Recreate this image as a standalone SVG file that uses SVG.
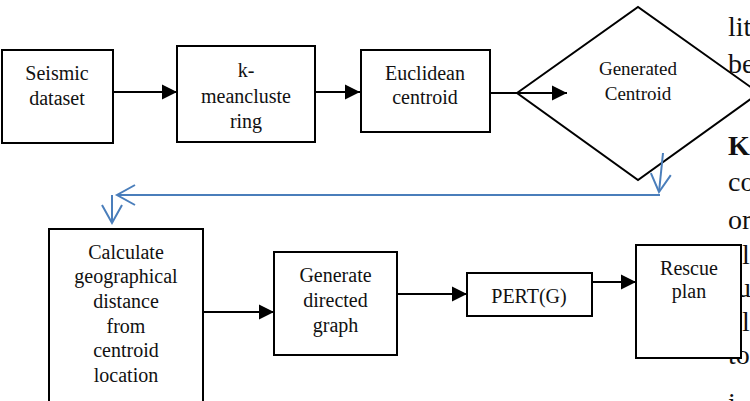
<svg xmlns="http://www.w3.org/2000/svg" width="750" height="401" viewBox="0 0 750 401">
<style>
.n{fill:#fff;stroke:#000;stroke-width:2}
.t{font-family:"Liberation Serif","Times New Roman",serif;font-size:20px;fill:#111;text-anchor:middle}
.d{font-size:19px}
.p{font-family:"Liberation Serif","Times New Roman",serif;font-size:28px;fill:#111}
.a{stroke:#000;stroke-width:2;fill:none}
.b{stroke:#4a7ebb;stroke-width:2;fill:none}
</style>
<defs>
<marker id="ah" markerUnits="userSpaceOnUse" markerWidth="16" markerHeight="16" refX="15" refY="7.5" orient="auto" overflow="visible">
<path d="M0,0 L15,7.5 L0,15 z" fill="#000"/>
</marker>
<marker id="bh" markerUnits="userSpaceOnUse" markerWidth="22" markerHeight="22" refX="18" refY="10" orient="auto" overflow="visible">
<path d="M0,0 L18,10 L0,20" fill="none" stroke="#4a7ebb" stroke-width="2"/>
</marker>
</defs>
<rect width="750" height="401" fill="#fff"/>

<g id="page-text">
<text class="p" x="728" y="36">lit</text>
<text class="p" x="728" y="73">be</text>
<text class="p" x="728" y="155" font-weight="bold">K</text>
<text class="p" x="728" y="191">co</text>
<text class="p" x="728" y="229">or</text>
<text class="p" x="742" y="264">l</text>
<text class="p" x="737" y="297">u</text>
<text class="p" x="742" y="331">l</text>
<text class="p" x="728" y="364">to</text>
<text class="p" x="728" y="412">i</text>
</g>

<g id="seismic">
<rect class="n" x="2" y="50" width="111" height="93"/>
<text class="t" x="57" y="80">Seismic</text>
<text class="t" x="57" y="105">dataset</text>
</g>
<g id="kmeans">
<rect class="n" x="177" y="46" width="138" height="96"/>
<text class="t" x="246" y="77">k-</text>
<text class="t" x="246" y="103">meancluste</text>
<text class="t" x="246" y="128">ring</text>
</g>
<g id="euclidean">
<rect class="n" x="361" y="50" width="129" height="82"/>
<text class="t" x="425" y="80">Euclidean</text>
<text class="t" x="425" y="104">centroid</text>
</g>
<g id="generated">
<polygon class="n" points="517,93 638,7 759,93 638,180"/>
<text class="t d" x="638" y="75">Generated</text>
<text class="t d" x="638" y="100">Centroid</text>
</g>
<g id="calculate">
<rect class="n" x="49" y="229" width="154" height="190"/>
<text class="t" x="126" y="259">Calculate</text>
<text class="t" x="126" y="283">geographical</text>
<text class="t" x="126" y="308">distance</text>
<text class="t" x="126" y="333">from</text>
<text class="t" x="126" y="357">centroid</text>
<text class="t" x="126" y="382">location</text>
</g>
<g id="directed">
<rect class="n" x="274" y="252" width="123" height="103"/>
<text class="t" x="335.5" y="282">Generate</text>
<text class="t" x="335.5" y="307">directed</text>
<text class="t" x="335.5" y="332">graph</text>
</g>
<g id="pert">
<rect class="n" x="467" y="273" width="125" height="43"/>
<text class="t" x="529" y="303">PERT(G)</text>
</g>
<g id="rescue">
<rect class="n" x="636" y="245" width="105" height="113"/>
<text class="t" x="689" y="275">Rescue</text>
<text class="t" x="689" y="298">plan</text>
</g>

<g id="connectors">
<line class="a" x1="113" y1="92" x2="177" y2="92" marker-end="url(#ah)"/>
<line class="a" x1="315" y1="92" x2="360" y2="92" marker-end="url(#ah)"/>
<line class="a" x1="490" y1="93" x2="567" y2="93" marker-end="url(#ah)"/>
<line class="a" x1="203" y1="312" x2="274" y2="312" marker-end="url(#ah)"/>
<line class="a" x1="397" y1="294" x2="467" y2="294" marker-end="url(#ah)"/>
<line class="a" x1="592" y1="282" x2="636" y2="282" marker-end="url(#ah)"/>
<line class="b" x1="663" y1="153" x2="659" y2="192" marker-end="url(#bh)"/>
<line class="b" x1="660" y1="195" x2="117" y2="195" marker-end="url(#bh)"/>
<line class="b" x1="112" y1="195" x2="112" y2="223" marker-end="url(#bh)"/>
</g>
</svg>
